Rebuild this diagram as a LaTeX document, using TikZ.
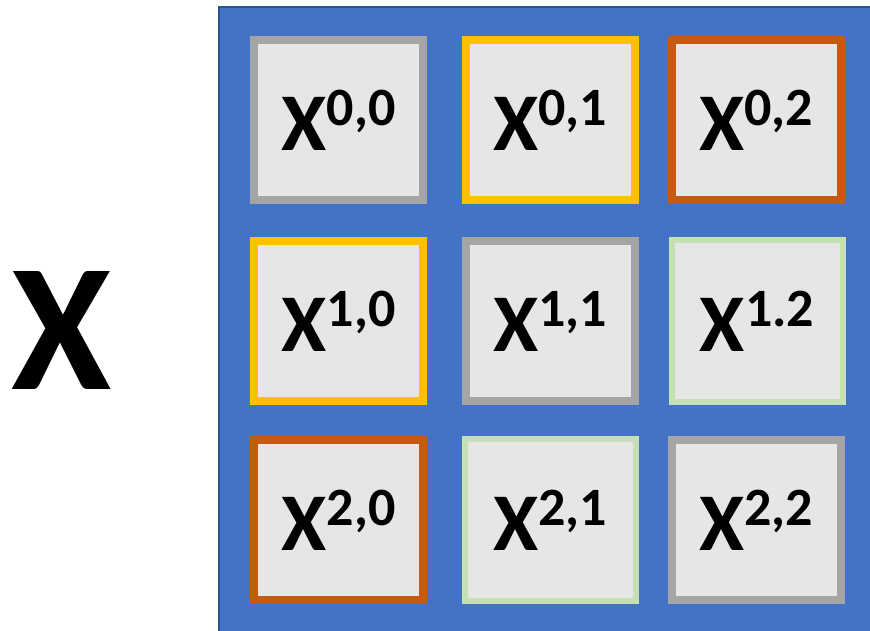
\documentclass[tikz,border=0pt]{standalone}
\usepackage{fontspec}
\setmainfont{Carlito}
\usetikzlibrary{positioning}

\definecolor{panelblue}{HTML}{4472C4}
\definecolor{paneledge}{HTML}{2F528F}
\definecolor{cellfill}{HTML}{E7E6E6}
\definecolor{cellgray}{HTML}{A5A5A5}
\definecolor{cellgold}{HTML}{FFC000}
\definecolor{cellrust}{HTML}{C55A11}
\definecolor{cellgreen}{HTML}{C5E0B4}

\newcommand{\blockx}[1]{X\raisebox{25pt}{\fontsize{54}{54}\selectfont #1}}

\tikzset{
    cell/.style={rectangle, fill=cellfill, line width=8pt, minimum width=169pt, minimum height=160pt,
        inner sep=0pt, font=\fontsize{82}{90}\selectfont\bfseries},
    thincell/.style={cell, line width=6pt, minimum width=171pt, minimum height=162pt}
}

\begin{document}
\begin{tikzpicture}[x=1pt, y=-1pt]
    % Khung hình
    \useasboundingbox (0,0) rectangle (870,631);

    % 1. Nhãn bên trái
    \node[font=\fontsize{182}{190}\selectfont\bfseries, inner sep=0pt] (bigx) at (62,330) {X};

    % 2. Nền xanh của ma trận khối
    \fill[panelblue] (219,7) rectangle (872,633);
    \draw[paneledge, line width=1.5pt] (219,633) -- (219,7) -- (872,7);

    % 3. Hàng 0
    \node[cell, draw=cellgray] (x00) at (338.5,120) {\blockx{0,0}};
    \node[cell, draw=cellgold] (x01) at (550,120) {\blockx{0,1}};
    \node[cell, draw=cellrust] (x02) at (756,120) {\blockx{0,2}};

    % 4. Hàng 1
    \node[cell, draw=cellgold] (x10) at (338.5,321) {\blockx{1,0}};
    \node[cell, draw=cellgray] (x11) at (550,321) {\blockx{1,1}};
    \node[thincell, draw=cellgreen] (x12) at (757,321) {\blockx{1.2}};

    % 5. Hàng 2
    \node[cell, draw=cellrust] (x20) at (338.5,520) {\blockx{2,0}};
    \node[thincell, draw=cellgreen] (x21) at (550,520) {\blockx{2,1}};
    \node[cell, draw=cellgray] (x22) at (756,520) {\blockx{2,2}};
\end{tikzpicture}
\end{document}
